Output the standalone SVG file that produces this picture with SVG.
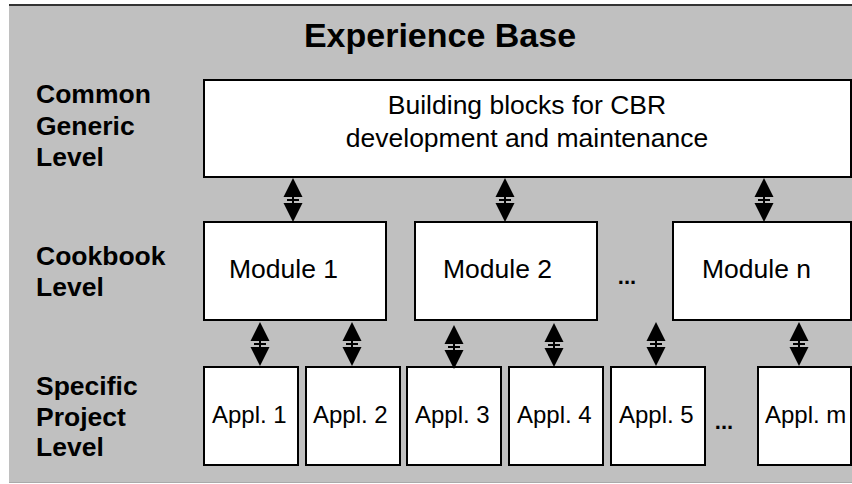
<svg xmlns="http://www.w3.org/2000/svg" width="852" height="484" viewBox="0 0 852 484">
<style>
.box{fill:#fff;stroke:#000;stroke-width:2}
.lbl{font-family:"Liberation Sans",Arial,sans-serif;font-weight:bold;font-size:26.5px;fill:#000}
.t{font-family:"Liberation Sans",Arial,sans-serif;font-size:26.5px;fill:#000}
.ta{font-family:"Liberation Sans",Arial,sans-serif;font-size:24px;fill:#000}
.dots{font-family:"Liberation Sans",Arial,sans-serif;font-weight:bold;font-size:22px;fill:#000}
</style>
<defs>
<g id="arr">
<polygon points="0,0 -9.5,19 9.5,19" fill="#000"/>
<line x1="0" y1="18" x2="0" y2="26" stroke="#000" stroke-width="2"/>
<line x1="-6" y1="22" x2="6" y2="22" stroke="#000" stroke-width="2"/>
<polygon points="-9.5,25 9.5,25 0,44" fill="#000"/>
</g>
</defs>
<rect x="9" y="4" width="843" height="479" fill="#c0c0c0"/>
<line x1="9" y1="5" x2="852" y2="5" stroke="#333" stroke-width="2"/>
<line x1="9" y1="482.5" x2="852" y2="482.5" stroke="#aaa" stroke-width="1"/>
<text x="440" y="47" text-anchor="middle" font-family="Liberation Sans, Arial, sans-serif" font-weight="bold" font-size="34">Experience Base</text>
<g id="labels">
<text class="lbl" x="36" y="103">Common</text>
<text class="lbl" x="36" y="135">Generic</text>
<text class="lbl" x="36" y="166">Level</text>
<text class="lbl" x="36" y="265">Cookbook</text>
<text class="lbl" x="36" y="296">Level</text>
<text class="lbl" x="36" y="395">Specific</text>
<text class="lbl" x="36" y="426">Project</text>
<text class="lbl" x="36" y="456">Level</text>
</g>
<g id="building-blocks">
<rect class="box" x="204" y="80" width="647" height="97"/>
<text class="t" x="527" y="114" text-anchor="middle">Building blocks for CBR</text>
<text class="t" x="527" y="147" text-anchor="middle">development and maintenance</text>
</g>
<g id="module1"><rect class="box" x="204" y="222" width="182" height="98"/><text class="t" x="229" y="278">Module 1</text></g>
<g id="module2"><rect class="box" x="415" y="222" width="182" height="98"/><text class="t" x="443" y="278">Module 2</text></g>
<g id="modulen"><rect class="box" x="673" y="222" width="178" height="98"/><text class="t" x="702" y="278">Module n</text></g>
<text class="dots" x="627" y="284" text-anchor="middle">...</text>
<g id="appl1"><rect class="box" x="204" y="367" width="94" height="98"/><text class="ta" x="212" y="423">Appl. 1</text></g>
<g id="appl2"><rect class="box" x="306" y="367" width="94" height="98"/><text class="ta" x="313" y="423">Appl. 2</text></g>
<g id="appl3"><rect class="box" x="407" y="367" width="94" height="98"/><text class="ta" x="415" y="423">Appl. 3</text></g>
<g id="appl4"><rect class="box" x="509" y="367" width="94" height="98"/><text class="ta" x="517" y="423">Appl. 4</text></g>
<g id="appl5"><rect class="box" x="611" y="367" width="94" height="98"/><text class="ta" x="619" y="423">Appl. 5</text></g>
<g id="applm"><rect class="box" x="758" y="367" width="93" height="98"/><text class="ta" x="765" y="423">Appl. m</text></g>
<text class="dots" x="724" y="429" text-anchor="middle">...</text>
<g id="connectors">
<use href="#arr" x="293" y="178"/>
<use href="#arr" x="505" y="178"/>
<use href="#arr" x="764" y="178"/>
<use href="#arr" x="260" y="322"/>
<use href="#arr" x="352" y="322"/>
<use href="#arr" x="454" y="325"/>
<use href="#arr" x="554" y="323"/>
<use href="#arr" x="656" y="322"/>
<use href="#arr" x="799" y="322"/>
</g>
</svg>
